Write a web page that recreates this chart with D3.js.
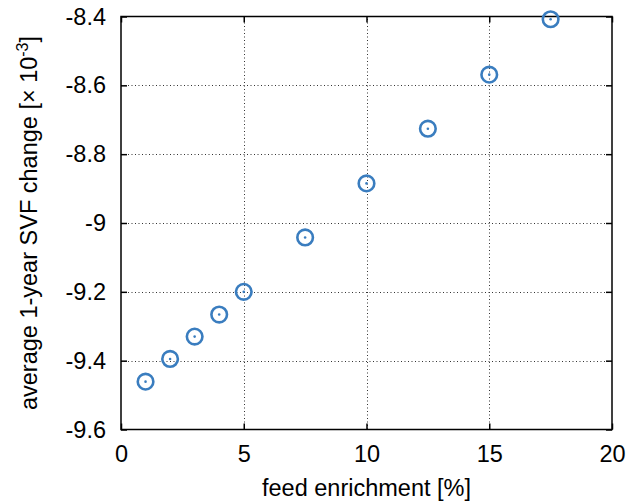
<!DOCTYPE html>
<html>
<head>
<meta charset="utf-8">
<script src="https://cdn.jsdelivr.net/npm/d3@7"></script>
<style>
  html, body { margin: 0; padding: 0; background: #fff; }
  svg { display: block; font-family: "Liberation Sans", Arial, sans-serif; }
</style>
</head>
<body>
<svg id="chart" width="630" height="504"></svg>
<script>
// Feed enrichment [%] versus average 1-year SVF change [x 10^-3]
const enrichment = [1, 2, 3, 4, 5, 7.5, 10, 12.5, 15, 17.5];
const svfChange = [-9.461, -9.395, -9.330, -9.266, -9.200, -9.042, -8.885, -8.726, -8.569, -8.408];
const xTicks = [0, 5, 10, 15, 20];
const yTicks = [-9.6, -9.4, -9.2, -9.0, -8.8, -8.6, -8.4];

const svg = d3.select("#chart");
const W = 630, H = 504;
const margin = { left: 121, right: 18, top: 16.5, bottom: 74.5 };
const xs = d3.scaleLinear().domain([0, 20]).range([margin.left, W - margin.right]);
const ys = d3.scaleLinear().domain([-9.6, -8.4]).range([H - margin.bottom, margin.top]);

const x0 = xs.range()[0], x1 = xs.range()[1];
const y0 = ys.range()[0], y1 = ys.range()[1];
const fontSize = 23.5;

// dotted grid
const grid = svg.append("g").attr("stroke", "#333").attr("stroke-width", 1)
  .attr("stroke-dasharray", "1,2.5");
grid.selectAll(".gx").data(xTicks.slice(1, -1)).join("line")
  .attr("x1", d => Math.round(xs(d)) + 0.5).attr("x2", d => Math.round(xs(d)) + 0.5)
  .attr("y1", y0).attr("y2", y1);
grid.selectAll(".gy").data(yTicks.slice(1, -1)).join("line")
  .attr("y1", d => Math.round(ys(d)) + 0.5).attr("y2", d => Math.round(ys(d)) + 0.5)
  .attr("x1", x0).attr("x2", x1);

// axes via d3.axis, ticks drawn inward and mirrored
const tickLen = 6;
const fmtX = d => String(d);
const fmtY = d => (d === -9 ? "-9" : d3.format(".1f")(d)).replace("\u2212", "-");
function styleAxis(g) {
  g.select(".domain").remove();
  g.attr("font-size", fontSize).attr("font-family", "Liberation Sans, Arial, sans-serif");
  g.selectAll(".tick line").attr("stroke", "#000").attr("stroke-width", 1.5);
  g.selectAll(".tick text").attr("fill", "#000");
}
svg.append("g").attr("transform", `translate(0,${y0})`)
  .call(d3.axisBottom(xs).tickValues(xTicks).tickSizeInner(-tickLen).tickSizeOuter(0).tickPadding(16).tickFormat(fmtX))
  .call(styleAxis);
svg.append("g").attr("transform", `translate(0,${y1})`)
  .call(d3.axisTop(xs).tickValues(xTicks).tickSizeInner(-tickLen).tickSizeOuter(0).tickFormat(""))
  .call(styleAxis);
svg.append("g").attr("transform", `translate(${x0},0)`)
  .call(d3.axisLeft(ys).tickValues(yTicks).tickSizeInner(-tickLen).tickSizeOuter(0).tickPadding(15).tickFormat(fmtY))
  .call(styleAxis);
svg.append("g").attr("transform", `translate(${x1},0)`)
  .call(d3.axisRight(ys).tickValues(yTicks).tickSizeInner(-tickLen).tickSizeOuter(0).tickFormat(""))
  .call(styleAxis);

// frame
svg.append("rect").attr("x", x0).attr("y", y1).attr("width", x1 - x0).attr("height", y0 - y1)
  .attr("fill", "none").attr("stroke", "#000").attr("stroke-width", 1.5);

// points: open circle with centre dot
const color = "#3a7dbf";
const pts = svg.append("g");
pts.selectAll("circle.ring").data(enrichment).join("circle").attr("class", "ring")
  .attr("cx", d => xs(d)).attr("cy", (d, i) => ys(svfChange[i])).attr("r", 7.8)
  .attr("fill", "none").attr("stroke", color).attr("stroke-width", 2.6);
pts.selectAll("circle.dot").data(enrichment).join("circle").attr("class", "dot")
  .attr("cx", d => xs(d)).attr("cy", (d, i) => ys(svfChange[i])).attr("r", 1.3)
  .attr("fill", color);

// axis titles
svg.append("text").attr("x", (x0 + x1) / 2).attr("y", 496).attr("text-anchor", "middle")
  .attr("font-size", fontSize).text("feed enrichment [%]");
const yl = svg.append("text").attr("transform", `translate(37,${(y0 + y1) / 2}) rotate(-90)`)
  .attr("text-anchor", "middle").attr("font-size", fontSize);
yl.append("tspan").text("average 1-year SVF change [\u00d7 10");
yl.append("tspan").attr("dy", -9).attr("font-size", 16).text("-3");
yl.append("tspan").attr("dy", 9).text("]");
</script>
</body>
</html>
